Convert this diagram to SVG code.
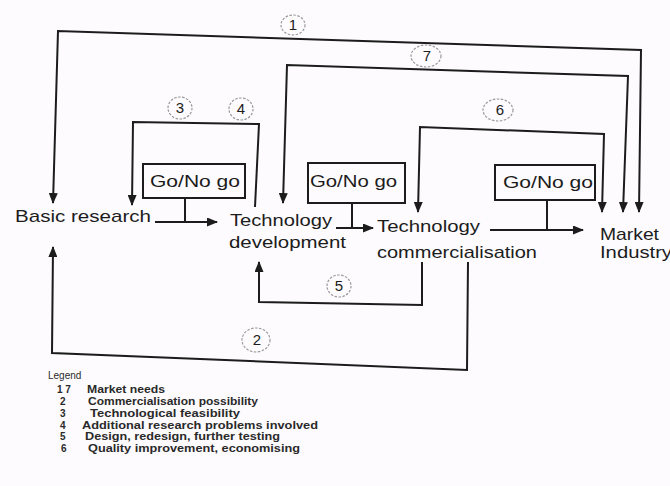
<svg xmlns="http://www.w3.org/2000/svg" width="670" height="486" viewBox="0 0 670 486">
<style>
.ln{fill:none;stroke:#1c1c1c;stroke-width:2;stroke-linejoin:miter}
.box{fill:none;stroke:#1c1c1c;stroke-width:2}
.nt{font-family:"Liberation Sans",Arial,sans-serif;font-size:17px;fill:#1c1c1c}
.gt{font-family:"Liberation Sans",Arial,sans-serif;font-size:16px;fill:#1c1c1c}
.ct{fill:none;stroke:#9a9a9a;stroke-width:1.2;stroke-dasharray:2.5 1.5}
.cn{font-family:"Liberation Sans",Arial,sans-serif;font-size:15px;fill:#1c1c1c;text-anchor:middle}
.lg{font-family:"Liberation Sans",Arial,sans-serif;font-size:10px;font-weight:bold;fill:#2a2a2a}
.lh{font-family:"Liberation Sans",Arial,sans-serif;font-size:10px;fill:#2a2a2a}
</style>
<defs>
<marker id="ah" markerUnits="userSpaceOnUse" markerWidth="11" markerHeight="9" refX="10" refY="4.5" orient="auto-start-reverse">
<path d="M0,0 L11,4.5 L0,9 z" fill="#1c1c1c"/>
</marker>
</defs>
<rect width="670" height="486" fill="#fdfbfd"/>

<g id="connectors">
<path class="ln" d="M53,203 L58,31 L641,50 L639,212" marker-start="url(#ah)" marker-end="url(#ah)"/>
<path class="ln" d="M283,203 L287,65 L628,76 L623,212" marker-start="url(#ah)" marker-end="url(#ah)"/>
<path class="ln" d="M418,212 L420,127 L604,134 L602,212" marker-start="url(#ah)" marker-end="url(#ah)"/>
<path class="ln" d="M255,207 L259,124 L133,122 L132,205" marker-end="url(#ah)"/>
<path class="ln" d="M468,262 L467,370 L52,353 L53,247" marker-end="url(#ah)"/>
<path class="ln" d="M422,262 L422,305 L259,302 L259,262" marker-end="url(#ah)"/>
<path class="ln" d="M155,222 L217,222" marker-end="url(#ah)"/>
<path class="ln" d="M185,198 L185,222"/>
<path class="ln" d="M336,228 L373,228" marker-end="url(#ah)"/>
<path class="ln" d="M352,203 L352,228"/>
<path class="ln" d="M490,230 L583,230" marker-end="url(#ah)"/>
<path class="ln" d="M547,200 L547,230"/>
</g>

<g id="labels">
<g id="lbl1"><ellipse class="ct" cx="293" cy="25" rx="12" ry="10"/><text class="cn" x="293" y="30">1</text></g>
<g id="lbl7"><ellipse class="ct" cx="426" cy="56" rx="15" ry="11"/><text class="cn" x="427" y="61">7</text></g>
<g id="lbl3"><ellipse class="ct" cx="180" cy="108" rx="12" ry="11"/><text class="cn" x="180" y="113">3</text></g>
<g id="lbl4"><ellipse class="ct" cx="241" cy="109" rx="12" ry="11"/><text class="cn" x="241" y="114">4</text></g>
<g id="lbl6"><ellipse class="ct" cx="498" cy="110" rx="15" ry="11"/><text class="cn" x="500" y="115">6</text></g>
<g id="lbl5"><ellipse class="ct" cx="339" cy="286" rx="12" ry="11"/><text class="cn" x="339" y="291">5</text></g>
<g id="lbl2"><ellipse class="ct" cx="256" cy="340" rx="14" ry="12"/><text class="cn" x="257" y="345">2</text></g>
</g>

<g id="basic-research"><text class="nt" x="15" y="222" textLength="136" lengthAdjust="spacingAndGlyphs">Basic research</text></g>
<g id="technology-development">
<text class="nt" x="230" y="226" textLength="102" lengthAdjust="spacingAndGlyphs">Technology</text>
<text class="nt" x="229" y="248" textLength="117" lengthAdjust="spacingAndGlyphs">development</text>
</g>
<g id="technology-commercialisation">
<text class="nt" x="377" y="232" textLength="103" lengthAdjust="spacingAndGlyphs">Technology</text>
<text class="nt" x="377" y="258" textLength="160" lengthAdjust="spacingAndGlyphs">commercialisation</text>
</g>
<g id="market-industry">
<text class="nt" x="600" y="240" textLength="59" lengthAdjust="spacingAndGlyphs">Market</text>
<text class="nt" x="600" y="258" textLength="72" lengthAdjust="spacingAndGlyphs">Industry</text>
</g>

<g id="gonogo-1"><rect class="box" x="143" y="164" width="102" height="34"/><text class="gt" x="150" y="187" textLength="90" lengthAdjust="spacingAndGlyphs">Go/No go</text></g>
<g id="gonogo-2"><rect class="box" x="308" y="163" width="97" height="40"/><text class="gt" x="310" y="187" textLength="87" lengthAdjust="spacingAndGlyphs">Go/No go</text></g>
<g id="gonogo-3"><rect class="box" x="495" y="165" width="100" height="35"/><text class="gt" x="503" y="188" textLength="90" lengthAdjust="spacingAndGlyphs">Go/No go</text></g>

<g id="legend">
<text class="lh" x="48" y="379">Legend</text>
<text class="lg" x="57" y="393">1 7</text><text class="lg" x="87" y="393" textLength="78" lengthAdjust="spacingAndGlyphs">Market needs</text>
<text class="lg" x="60" y="405">2</text><text class="lg" x="88" y="405" textLength="170" lengthAdjust="spacingAndGlyphs">Commercialisation possibility</text>
<text class="lg" x="60" y="417">3</text><text class="lg" x="90" y="417" textLength="150" lengthAdjust="spacingAndGlyphs">Technological feasibility</text>
<text class="lg" x="60" y="429">4</text><text class="lg" x="82" y="429" textLength="236" lengthAdjust="spacingAndGlyphs">Additional research problems involved</text>
<text class="lg" x="60" y="440">5</text><text class="lg" x="85" y="440" textLength="195" lengthAdjust="spacingAndGlyphs">Design, redesign, further testing</text>
<text class="lg" x="61" y="452">6</text><text class="lg" x="88" y="452" textLength="212" lengthAdjust="spacingAndGlyphs">Quality improvement, economising</text>
</g>
</svg>
